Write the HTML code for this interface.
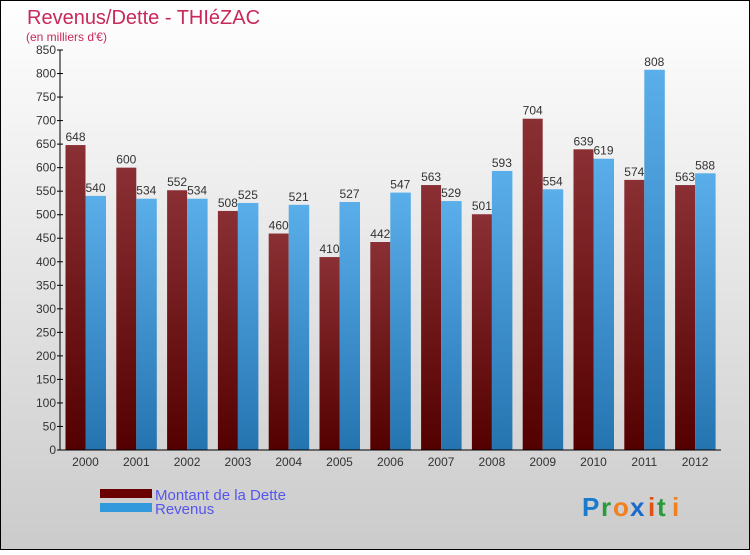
<!DOCTYPE html>
<html><head><meta charset="utf-8"><style>
html,body{margin:0;padding:0;}
body{width:750px;height:550px;overflow:hidden;font-family:"Liberation Sans",sans-serif;}
</style></head><body>
<svg width="750" height="550" xmlns="http://www.w3.org/2000/svg">
<defs>
<linearGradient id="bg" x1="0" y1="0" x2="0" y2="1"><stop offset="0" stop-color="#ffffff"/><stop offset="1" stop-color="#cbcbcb"/></linearGradient>
<linearGradient id="gd" x1="0" y1="0" x2="0" y2="1"><stop offset="0" stop-color="#8a3034"/><stop offset="1" stop-color="#540000"/></linearGradient>
<linearGradient id="gr" x1="0" y1="0" x2="0" y2="1"><stop offset="0" stop-color="#5aaeea"/><stop offset="1" stop-color="#2474b0"/></linearGradient>
</defs>
<rect x="0.5" y="0.5" width="749" height="549" fill="url(#bg)" stroke="#000"/>
<text x="27" y="24" font-size="20" fill="#c8285a">Revenus/Dette - THIéZAC</text>
<text x="26" y="41" font-size="12" fill="#c8285a">(en milliers d'€)</text>
<g id="plot"></g>
<rect x="100" y="489" width="52" height="9" fill="#6b0000"/>
<text x="155" y="500" font-size="15" fill="#5555ee">Montant de la Dette</text>
<rect x="100" y="503" width="52" height="9" fill="#3399dd"/>
<text x="155" y="514" font-size="15" fill="#5555ee">Revenus</text>
<g font-size="26" font-weight="bold">
<text x="582" y="516" fill="#1a7acc">P</text><text x="601" y="516" fill="#2a9a3a">r</text><text x="613" y="516" fill="#f08020">o</text><text x="630" y="516" fill="#1a6acc">x</text><text x="648" y="516" fill="#e05010">i</text><text x="657" y="516" fill="#2a9a3a">t</text><text x="672" y="516" fill="#f08020">i</text>
</g>
</svg>
<script>
const years=["2000","2001","2002","2003","2004","2005","2006","2007","2008","2009","2010","2011","2012"];
const dette=[648,600,552,508,460,410,442,563,501,704,639,574,563];
const revenus=[540,534,534,525,521,527,547,529,593,554,619,808,588];
const yTicks=[0,50,100,150,200,250,300,350,400,450,500,550,600,650,700,750,800,850];
const NS="http://www.w3.org/2000/svg";
const g=document.getElementById('plot');
const x0=60,step=50.8,y0=450,yMax=850,h=400;
const y=v=>y0-v/yMax*h;
const gx=i=>65.5+i*step;
function mk(t,a){const e=document.createElementNS(NS,t);for(const k in a)e.setAttribute(k,a[k]);g.appendChild(e);return e;}
yTicks.forEach(v=>{
 const l=mk('line',{x1:x0-3,x2:x0+3,y1:y(v),y2:y(v),stroke:'#000'});
 
 
 const t=mk('text',{x:x0-4,y:y(v)+4,'font-size':12,'text-anchor':'end',fill:'#333'});
 t.textContent=v;
 
 
});
years.forEach((yr,i)=>{
 const bx=gx(i);
 const b1=mk('rect',{x:bx,y:y(dette[i]),width:20,height:y0-y(dette[i]),fill:'url(#gd)'});
 
 
 const b2=mk('rect',{x:bx+20,y:y(revenus[i]),width:20.5,height:y0-y(revenus[i]),fill:'url(#gr)'});
 
 
 const t1=mk('text',{x:bx+10,y:y(dette[i])-4,'font-size':12,'text-anchor':'middle',fill:'#333'});
 t1.textContent=dette[i];
 
 
 const t2=mk('text',{x:bx+30,y:y(revenus[i])-4,'font-size':12,'text-anchor':'middle',fill:'#333'});
 t2.textContent=revenus[i];
 
 
 const xl=mk('text',{x:bx+20,y:466,'font-size':12,'text-anchor':'middle',fill:'#333'});
 xl.textContent=yr;
 
 
});
const ya=mk('line',{x1:x0,x2:x0,y1:y(yMax),y2:y0,stroke:'#000'});


const xa=mk('line',{x1:x0,x2:721,y1:y0,y2:y0,stroke:'#000'});


</script>
</body></html>
